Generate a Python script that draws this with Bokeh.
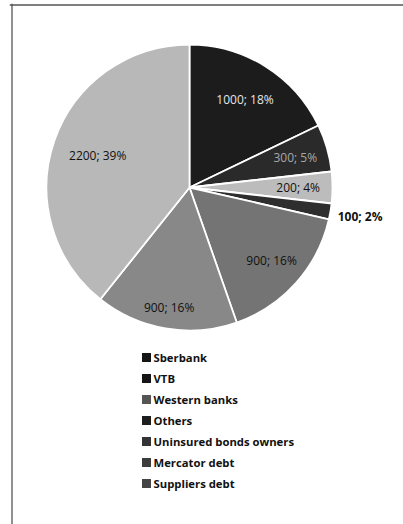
import numpy as np
from bokeh.plotting import figure
from bokeh.models import Range1d, ColumnDataSource, Span
from bokeh.core.properties import value
from bokeh.embed import file_html
from bokeh.resources import INLINE

categories = ["Sberbank", "VTB", "Western banks", "Others",
              "Uninsured bonds owners", "Mercator debt", "Suppliers debt"]
amounts = [1000, 300, 200, 100, 900, 900, 2200]
percents = [18, 5, 4, 2, 16, 16, 39]
colors = ["#1c1c1c", "#2a2a2a", "#bcbcbc", "#2e2e2e", "#747474", "#888888", "#b8b8b8"]
legend_colors = ["#151515", "#151515", "#555555", "#1e1e1e", "#333333", "#3c3c3c", "#444444"]
label_colors = ["#e6e6e6", "#a8a8a8", "#111111", "#111111", "#111111", "#111111", "#111111"]
label_radius = [0.73, 0.77, 0.76, 1.21, 0.77, 0.85, 0.68]
label_style = ["normal", "normal", "normal", "bold", "normal", "normal", "normal"]

W, H = 403, 524
p = figure(width=W, height=H, output_backend="svg", toolbar_location=None,
           x_range=Range1d(9, 403), y_range=Range1d(-524, -3),
           min_border_left=9, min_border_right=0, min_border_top=3, min_border_bottom=0)
p.xaxis.visible = False
p.yaxis.visible = False
p.grid.visible = False
p.outline_line_color = None
p.background_fill_color = "white"
p.border_fill_color = "white"

p.add_layout(Span(location=11.5, dimension="height", line_color="#555555", line_width=1.3))
p.add_layout(Span(location=-4.5, dimension="width", line_color="#555555", line_width=1.3))

cx, cy, r = 189, -187, 143
vals = np.array(amounts, dtype=float)
frac = vals / vals.sum()
cum = np.concatenate([[0], np.cumsum(frac)])
start = np.pi / 2 - 2 * np.pi * cum[1:]
end = np.pi / 2 - 2 * np.pi * cum[:-1]
mid = (start + end) / 2

src = ColumnDataSource(dict(start=start, end=end, color=colors, cat=categories))
p.wedge(x=cx, y=cy, radius=r, start_angle="start", end_angle="end",
        fill_color="color", line_color="white", line_width=1.8, source=src)

labels = [f"{a}; {pc}%" for a, pc in zip(amounts, percents)]
lx = cx + r * np.array(label_radius) * np.cos(mid)
ly = cy + r * np.array(label_radius) * np.sin(mid)
lsrc = ColumnDataSource(dict(x=lx, y=ly, t=labels, c=label_colors, s=label_style))
p.text(x="x", y="y", text="t", text_color="c", text_font_style="s",
       text_font=value("Open Sans"), text_font_size="12px",
       text_align="center", text_baseline="middle", source=lsrc)

# legend
leg_x0, leg_y0, leg_dy = 146, -357, 21
ly_leg = [leg_y0 - leg_dy * i for i in range(len(categories))]
p.scatter(x=[leg_x0] * len(categories), y=ly_leg, marker="square", size=9,
          fill_color=legend_colors, line_color=None)
p.text(x=[leg_x0 + 7] * len(categories), y=ly_leg, text=categories,
       text_font=value("Open Sans"), text_font_style="bold", text_font_size="11.3px",
       text_color="#111111", text_baseline="middle", text_align="left")

open("out.html", "w").write(file_html(p, INLINE))
